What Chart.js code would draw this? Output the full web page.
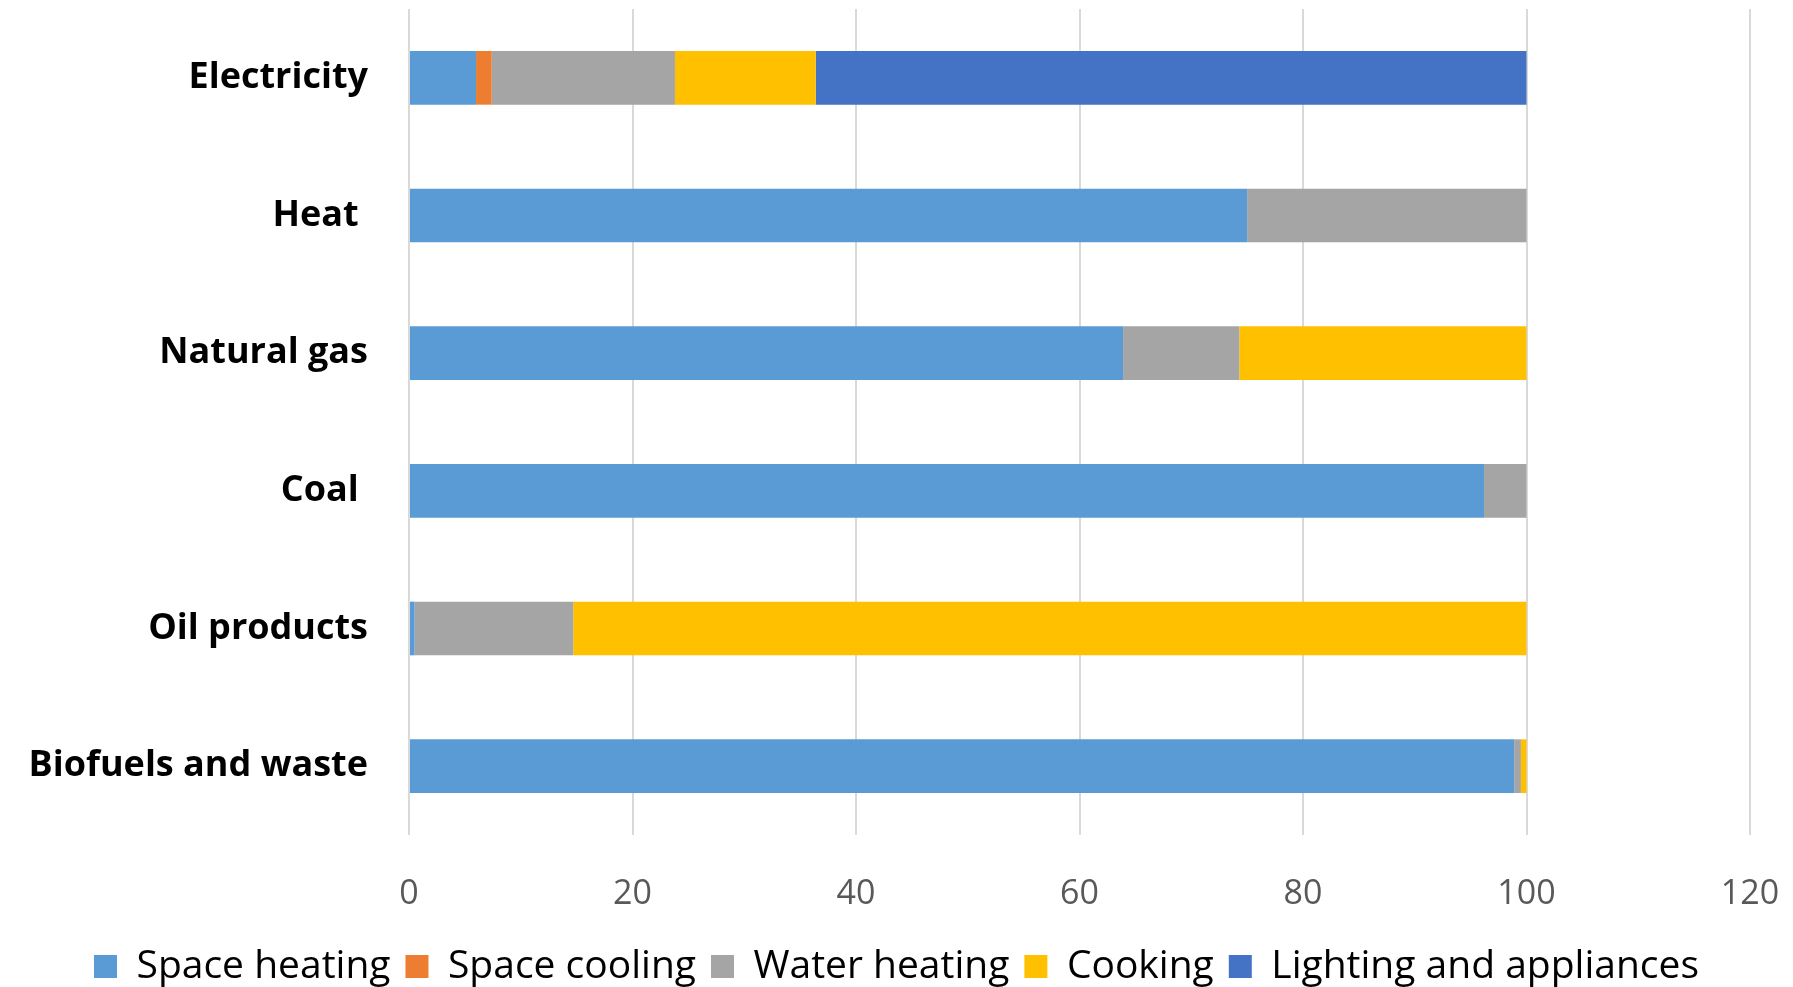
<!DOCTYPE html>
<html><head><meta charset="utf-8">
<script src="https://cdn.jsdelivr.net/npm/chart.js@4"></script>
<style>html,body{margin:0;padding:0;background:#fff;}#wrap{width:1793px;height:987px;}</style>
</head><body><div id="wrap"><canvas id="c"></canvas></div>
<script>
const categories = ["Electricity", "Heat ", "Natural gas", "Coal ", "Oil products", "Biofuels and waste"];
const spaceHeating = [6.0, 75.0, 63.9, 96.2, 0.5, 98.9];
const spaceCooling = [1.4, 0, 0, 0, 0, 0];
const waterHeating = [16.4, 25.0, 10.4, 3.8, 14.2, 0.6];
const cooking = [12.6, 0, 25.7, 0, 85.3, 0.5];
const lighting = [63.6, 0, 0, 0, 0, 0];
const xTicks = [0, 20, 40, 60, 80, 100, 120];

const mk = (label, data, color) => ({label, data, backgroundColor: color, borderWidth: 0, barPercentage: 0.78, categoryPercentage: 0.5});
new Chart(document.getElementById('c'), {
  type: 'bar',
  data: {
    labels: categories,
    datasets: [
      mk('Space heating', spaceHeating, '#5B9BD5'),
      mk('Space cooling', spaceCooling, '#ED7D31'),
      mk('Water heating', waterHeating, '#A5A5A5'),
      mk('Cooking', cooking, '#FFC000'),
      mk('Lighting and appliances', lighting, '#4472C4')
    ]
  },
  options: {
    indexAxis: 'y',
    responsive: true,
    maintainAspectRatio: false,
    animation: false,
    layout: {padding: {top: 9, left: 0, right: 0, bottom: -9}},
    plugins: {
      tooltip: {enabled: false},
      legend: {
        position: 'bottom',
        labels: {
          boxWidth: 23, boxHeight: 23, padding: 15,
          color: '#000',
          font: {family: 'Open Sans', size: 39}
        }
      }
    },
    scales: {
      x: {
        stacked: true, min: 0, max: 120,
        afterBuildTicks: s => { s.ticks = xTicks.map(v => ({value: v})); },
        afterFit: s => { s.height = 97; s.paddingLeft = 0; s.paddingRight = 43; },
        grid: {color: '#d9d9d9', lineWidth: 2, drawTicks: false},
        border: {display: false},
        ticks: {color: '#595959', padding: 39, font: {family: 'Open Sans', size: 34}}
      },
      y: {
        stacked: true,
        afterFit: s => { s.width = 409; s.paddingTop = 0; s.paddingBottom = 0; },
        grid: {display: false, drawTicks: false},
        border: {display: false},
        ticks: {color: '#000', padding: 41, font: {family: 'Open Sans', size: 36, weight: 'bold'}}
      }
    }
  }
});
</script></body></html>
